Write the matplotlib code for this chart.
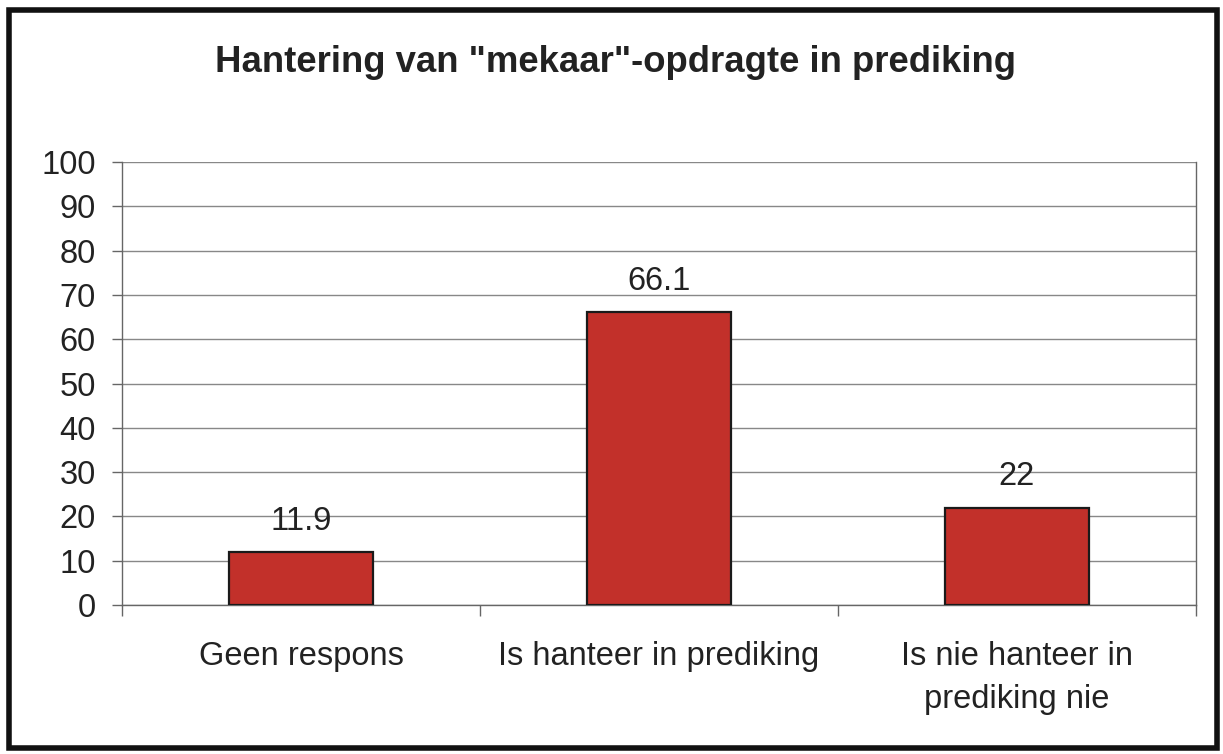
import numpy as np
import matplotlib.pyplot as plt
from matplotlib.patches import Rectangle

plt.rcParams['font.family'] = ['Liberation Sans', 'DejaVu Sans']

categories = ['Geen respons', 'Is hanteer in prediking', 'Is nie hanteer in\nprediking nie']
values = [11.9, 66.1, 22]
value_labels = ['11.9', '66.1', '22']
y_ticks = [0, 10, 20, 30, 40, 50, 60, 70, 80, 90, 100]

fig = plt.figure(figsize=(12.23, 7.54), dpi=100)
ax = fig.add_axes([122 / 1223, 1 - 605 / 754, 1074 / 1223, 443 / 754])

x = np.arange(len(categories))
ax.bar(x, values, width=0.4, color='#C2302A', edgecolor='#1a1a1a', linewidth=1.6, zorder=3)

for xi, v, lab in zip(x, values, value_labels):
    ax.annotate(lab, (xi, v), xytext=(0, 11), textcoords='offset points',
                ha='center', va='bottom', fontsize=23.5, color='#222222')

ax.set_xlim(-0.5, 2.5)
ax.set_ylim(0, 100)
ax.set_yticks(y_ticks)
ax.tick_params(axis='y', labelsize=23.5, length=7, width=1, color='#666666',
               pad=12, labelcolor='#222222')

# category boundaries get tick marks, labels sit in between
ax.set_xticks([-0.5, 0.5, 1.5, 2.5])
ax.set_xticklabels([])
ax.set_xticks(x, minor=True)
ax.set_xticklabels(categories, minor=True, linespacing=1.5)
ax.tick_params(axis='x', which='major', length=8, width=1, color='#666666')
ax.tick_params(axis='x', which='minor', length=0, pad=26, labelsize=23.5, labelcolor='#222222')

ax.grid(axis='y', color='#888888', linewidth=1, zorder=0)
for side in ['left', 'right', 'bottom']:
    ax.spines[side].set_color('#666666')
    ax.spines[side].set_linewidth(1)
ax.spines['top'].set_visible(False)

fig.text(0.503, 1 - 62 / 754, 'Hantering van "mekaar"-opdragte in prediking',
         ha='center', va='center', fontsize=26.3, fontweight='bold', color='#222222')

fig.patches.append(Rectangle((9 / 1223, 1 - 748 / 754), 1208 / 1223, 738 / 754,
                             transform=fig.transFigure, fill=False,
                             edgecolor='#111111', linewidth=4))

fig.savefig('out.png', dpi=100, facecolor='white')
